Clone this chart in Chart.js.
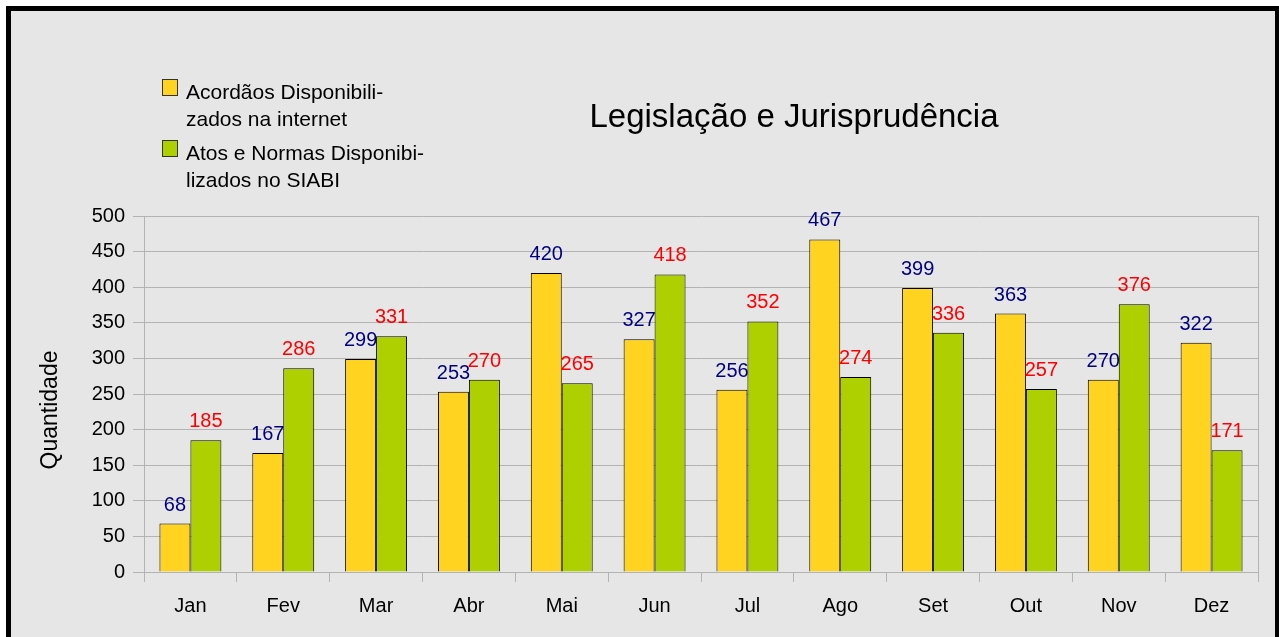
<!DOCTYPE html>
<html>
<head>
<meta charset="utf-8">
<title>Legislação e Jurisprudência</title>
<script src="https://cdn.jsdelivr.net/npm/chart.js@4/dist/chart.umd.min.js"></script>
<style>
  html, body { margin: 0; padding: 0; background: #fff; }
  canvas { display: block; }
</style>
</head>
<body>
<canvas id="chart" width="1279" height="637"></canvas>
<script>
// Chart data
const months = ['Jan', 'Fev', 'Mar', 'Abr', 'Mai', 'Jun', 'Jul', 'Ago', 'Set', 'Out', 'Nov', 'Dez'];
const acordaos = [68, 167, 299, 253, 420, 327, 256, 467, 399, 363, 270, 322];
const atosNormas = [185, 286, 331, 270, 265, 418, 352, 274, 336, 257, 376, 171];
const yTicks = [0, 50, 100, 150, 200, 250, 300, 350, 400, 450, 500];

const FONT = '"Liberation Sans", Arial, sans-serif';
const GRID = '#b3b3b3';

// Gray panel with the thick black frame
const backgroundPlugin = {
  id: 'panel',
  beforeDraw(chart) {
    const ctx = chart.ctx;
    ctx.save();
    ctx.fillStyle = '#fff';
    ctx.fillRect(0, 0, chart.width, chart.height);
    ctx.fillStyle = '#000';
    ctx.fillRect(6, 6, chart.width, chart.height);
    ctx.fillStyle = '#e6e6e6';
    ctx.fillRect(11, 11, chart.width - 15, chart.height);
    ctx.restore();
  }
};

// Right edge of the plot area, plus title, axis title and legend
const decorPlugin = {
  id: 'decor',
  afterDraw(chart) {
    const ctx = chart.ctx;
    const area = chart.chartArea;
    ctx.save();

    ctx.strokeStyle = GRID;
    ctx.lineWidth = 1;
    ctx.beginPath();
    ctx.moveTo(Math.round(area.right) + 0.5, area.top);
    ctx.lineTo(Math.round(area.right) + 0.5, area.bottom + 10);
    ctx.stroke();

    ctx.fillStyle = '#000';
    ctx.textAlign = 'center';
    ctx.textBaseline = 'alphabetic';
    ctx.font = '33px ' + FONT;
    ctx.fillText('Legislação e Jurisprudência', 794, 127);

    ctx.save();
    ctx.translate(57, 410);
    ctx.rotate(-Math.PI / 2);
    ctx.font = '23px ' + FONT;
    ctx.fillText('Quantidade', 0, 0);
    ctx.restore();

    // legend
    const legendLines = [
      ['Acordãos Disponibili-', 'zados na internet'],
      ['Atos e Normas Disponibi-', 'lizados no SIABI']
    ];
    const boxTops = [79, 140];
    ctx.textAlign = 'left';
    ctx.font = '21px ' + FONT;
    chart.data.datasets.forEach((ds, i) => {
      ctx.fillStyle = ds.backgroundColor;
      ctx.fillRect(162, boxTops[i], 15, 16);
      ctx.strokeStyle = '#333';
      ctx.strokeRect(162.5, boxTops[i] + 0.5, 15, 16);
      ctx.fillStyle = '#000';
      legendLines[i].forEach((line, j) => {
        ctx.fillText(line, 186, boxTops[i] + 20 + j * 27);
      });
    });

    ctx.restore();
  }
};

// Values above each bar
const valueLabelsPlugin = {
  id: 'valueLabels',
  afterDatasetsDraw(chart) {
    const ctx = chart.ctx;
    const colors = ['#000080', '#ff0000'];
    ctx.save();
    ctx.font = '20px ' + FONT;
    ctx.textAlign = 'center';
    ctx.textBaseline = 'alphabetic';
    chart.data.datasets.forEach((ds, i) => {
      const meta = chart.getDatasetMeta(i);
      ctx.fillStyle = colors[i];
      meta.data.forEach((bar, j) => {
        ctx.fillText(String(ds.data[j]), bar.x, bar.y - 13);
      });
    });
    ctx.restore();
  }
};

new Chart(document.getElementById('chart'), {
  type: 'bar',
  data: {
    labels: months,
    datasets: [
      {
        label: 'Acordãos Disponibilizados na internet',
        data: acordaos,
        backgroundColor: '#ffd320',
        borderColor: '#000',
        borderWidth: 1
      },
      {
        label: 'Atos e Normas Disponibilizados no SIABI',
        data: atosNormas,
        backgroundColor: '#aecf00',
        borderColor: '#000',
        borderWidth: 1
      }
    ]
  },
  options: {
    responsive: false,
    animation: false,
    devicePixelRatio: 1,
    categoryPercentage: 0.667,
    barPercentage: 1.0,
    layout: { padding: { left: 0, right: 21, top: 216, bottom: 0 } },
    plugins: {
      legend: { display: false },
      title: { display: false },
      tooltip: { enabled: false }
    },
    scales: {
      x: {
        grid: { drawOnChartArea: false, color: GRID, tickLength: 10, offset: true },
        border: { color: GRID },
        ticks: { color: '#000', font: { family: FONT, size: 20 }, padding: 12 },
        afterFit(scale) { scale.height = 65; }
      },
      y: {
        min: 0,
        max: 500,
        afterBuildTicks(scale) { scale.ticks = yTicks.map(v => ({ value: v })); },
        grid: { color: GRID, tickLength: 11 },
        border: { color: GRID },
        ticks: { color: '#000', font: { family: FONT, size: 20 }, padding: 8 },
        afterFit(scale) { scale.width = 144; }
      }
    }
  },
  plugins: [backgroundPlugin, decorPlugin, valueLabelsPlugin]
});
</script>
</body>
</html>
